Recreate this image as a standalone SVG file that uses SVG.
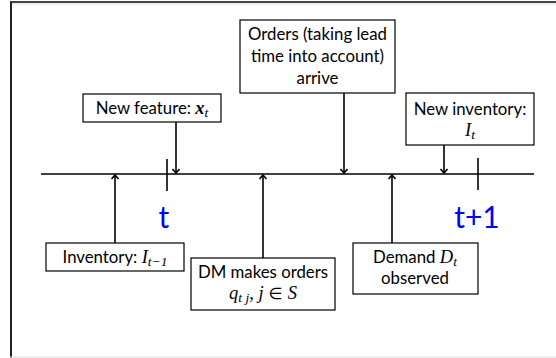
<svg xmlns="http://www.w3.org/2000/svg" width="556" height="358" viewBox="0 0 556 358">
  <defs>
    <marker id="head" markerWidth="10" markerHeight="10" refX="5" refY="5" orient="auto" markerUnits="userSpaceOnUse">
      <path d="M1,1.5 L5,5 L1,8.5" fill="none" stroke="#000" stroke-width="1.6" stroke-linejoin="miter"/>
    </marker>
  </defs>
  <style>
    .box { fill: #fff; stroke: #000; stroke-width: 1.2; }
    .lbl { font-family: Lato, "Open Sans", "Liberation Sans", sans-serif; font-size: 16.8px; fill: #000; text-anchor: middle; }
    .math { font-family: "Liberation Serif", "DejaVu Serif", serif; font-style: italic; font-size: 18.5px; }
    .sub { font-family: "Liberation Serif", "DejaVu Serif", serif; font-style: italic; font-size: 13.5px; }
    .tick { font-family: Lato, "Open Sans", "Liberation Sans", sans-serif; font-size: 30px; fill: #0000ff; text-anchor: middle; }
    .line { stroke: #000; stroke-width: 1.6; fill: none; }
    .arrow { stroke: #000; stroke-width: 1.6; fill: none; marker-end: url(#head); }
  </style>

  <!-- page frame -->
  <rect x="0" y="0" width="556" height="358" fill="#fff"/>
  <line x1="10" y1="2" x2="556" y2="2" stroke="#444" stroke-width="2"/>
  <line x1="10" y1="4" x2="556" y2="4" stroke="#ddd" stroke-width="1"/>
  <line x1="11" y1="2" x2="11" y2="358" stroke="#222" stroke-width="2"/>
  <line x1="10" y1="357" x2="556" y2="357" stroke="#ddd" stroke-width="1"/>

  <!-- timeline -->
  <g id="timeline">
    <line class="line" x1="41" y1="174" x2="534" y2="174"/>
    <line class="line" x1="167" y1="159" x2="167" y2="191"/>
    <line class="line" x1="478" y1="158" x2="478" y2="190"/>
    <text class="tick" x="164" y="228">t</text>
    <text class="tick" x="477" y="228">t+1</text>
  </g>

  <!-- connectors -->
  <g id="connectors">
    <line class="arrow" x1="176" y1="122" x2="176" y2="173"/>
    <line class="arrow" x1="344" y1="93" x2="344" y2="173"/>
    <line class="arrow" x1="444" y1="145" x2="444" y2="173"/>
    <line class="arrow" x1="115" y1="243" x2="115" y2="175"/>
    <line class="arrow" x1="263" y1="258" x2="263" y2="175"/>
    <line class="arrow" x1="392" y1="243" x2="392" y2="175"/>
  </g>

  <g id="orders-arrive">
    <rect class="box" x="240" y="20" width="155" height="73"/>
    <text class="lbl" x="317.5" y="40">Orders (taking lead</text>
    <text class="lbl" x="317.5" y="62">time into account)</text>
    <text class="lbl" x="317.5" y="84">arrive</text>
  </g>

  <g id="new-feature">
    <rect class="box" x="83" y="94" width="138" height="28"/>
    <text class="lbl" x="152" y="114">New feature: <tspan class="math" font-weight="bold">x</tspan><tspan class="sub" dy="3">t</tspan></text>
  </g>

  <g id="new-inventory">
    <rect class="box" x="406" y="93" width="128" height="52"/>
    <text class="lbl" x="470" y="115">New inventory:</text>
    <text class="lbl" x="470" y="136"><tspan class="math">I</tspan><tspan class="sub" dy="3">t</tspan></text>
  </g>

  <g id="inventory">
    <rect class="box" x="46" y="243" width="138" height="28"/>
    <text class="lbl" x="115" y="263">Inventory: <tspan class="math">I</tspan><tspan class="sub" dy="3">t−1</tspan></text>
  </g>

  <g id="dm-orders">
    <rect class="box" x="191" y="258" width="144" height="52"/>
    <text class="lbl" x="263" y="278">DM makes orders</text>
    <text class="lbl" x="263" y="299"><tspan class="math">q</tspan><tspan class="sub" dy="3">t j</tspan><tspan class="math" dy="-3">, j</tspan><tspan font-family="DejaVu Sans, sans-serif" font-size="16"> ∈ </tspan><tspan class="math">S</tspan></text>
  </g>

  <g id="demand">
    <rect class="box" x="353" y="243" width="125" height="51"/>
    <text class="lbl" x="415" y="263">Demand <tspan class="math">D</tspan><tspan class="sub" dy="3">t</tspan></text>
    <text class="lbl" x="415" y="284">observed</text>
  </g>
</svg>
